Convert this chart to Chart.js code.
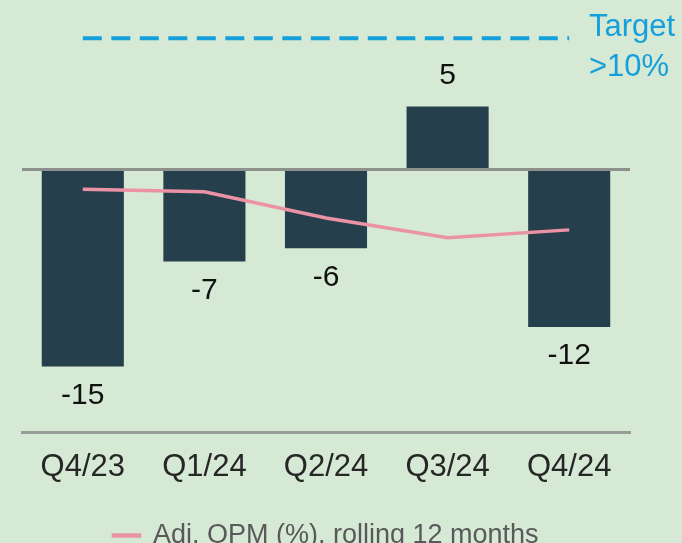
<!DOCTYPE html>
<html>
<head>
<meta charset="utf-8">
<script src="https://cdn.jsdelivr.net/npm/chart.js@4.4.1/dist/chart.umd.min.js"></script>
<style>
  html, body { margin: 0; padding: 0; background: #d6e9d4; overflow: hidden; }
  #wrap { width: 682px; height: 559px; position: relative; }
</style>
</head>
<body>
<div id="wrap"><canvas id="myChart"></canvas></div>
<script>
const quarters = ['Q4/23', 'Q1/24', 'Q2/24', 'Q3/24', 'Q4/24'];
const quarterlyOpm = [-15, -7, -6, 4.8, -12];
const rollingOpm = [-1.5, -1.7, -3.7, -5.2, -4.6];
const targetOpm = [10, 10, 10, 10, 10];
const targetText = ['Target', '>10%'];
const legendText = 'Adj. OPM (%), rolling 12 months';

const FONT = '"Liberation Sans", Arial, sans-serif';

// valeurs au-dessus / en dessous des barres + texte Target
const labelPlugin = {
  id: 'labels',
  afterDatasetsDraw(chart) {
    const c = chart.ctx;
    const meta = chart.getDatasetMeta(2);
    c.save();
    c.font = '30px ' + FONT;
    c.fillStyle = '#111';
    c.textAlign = 'center';
    c.textBaseline = 'middle';
    meta.data.forEach(function (bar, i) {
      const v = quarterlyOpm[i];
      const y = v >= 0 ? bar.y - 31 : bar.y + 29;
      c.fillText(Math.round(v), bar.x, y);
    });
    c.font = '31px ' + FONT;
    c.fillStyle = '#16a0db';
    c.textAlign = 'left';
    c.textBaseline = 'alphabetic';
    c.fillText(targetText[0], 589, 36);
    c.fillText(targetText[1], 589, 76);
    c.restore();
  }
};

const ctx = document.getElementById('myChart');
new Chart(ctx, {
  data: {
    labels: quarters,
    datasets: [
      {
        type: 'line',
        label: legendText,
        data: rollingOpm,
        borderColor: '#eb93a5',
        backgroundColor: '#eb93a5',
        borderWidth: 3.5,
        pointRadius: 0,
        order: 1
      },
      {
        type: 'line',
        label: 'Target',
        data: targetOpm,
        borderColor: '#16a0db',
        borderWidth: 4,
        borderDash: [19, 9.5],
        pointRadius: 0,
        order: 2
      },
      {
        type: 'bar',
        label: 'Adj. OPM (%)',
        data: quarterlyOpm,
        backgroundColor: '#253f4d',
        categoryPercentage: 1,
        barPercentage: 0.675,
        order: 3
      }
    ]
  },
  options: {
    responsive: true,
    maintainAspectRatio: false,
    animation: false,
    layout: { padding: { left: 22, right: 52, top: 12, bottom: 0 } },
    scales: {
      x: {
        grid: { display: false },
        border: { display: true, color: '#999c98', width: 3 },
        ticks: { color: '#262626', font: { size: 31, family: FONT }, padding: 9 },
        afterFit: function (s) { s.height = 80; }
      },
      y: {
        min: -20,
        max: 12,
        border: { display: false },
        grid: {
          drawTicks: false,
          lineWidth: 3,
          color: function (c) { return c.tick && c.tick.value === 0 ? '#8c918b' : 'rgba(0,0,0,0)'; }
        },
        ticks: { display: false, stepSize: 4 },
        afterFit: function (s) { s.width = 0; }
      }
    },
    plugins: {
      legend: {
        position: 'bottom',
        fullSize: false,
        labels: {
          filter: function (item) { return item.datasetIndex === 0; },
          boxWidth: 26,
          boxHeight: 1,
          padding: 10,
          color: '#595959',
          font: { size: 27, family: FONT }
        }
      },
      tooltip: { enabled: false }
    }
  },
  plugins: [labelPlugin]
});
</script>
</body>
</html>
